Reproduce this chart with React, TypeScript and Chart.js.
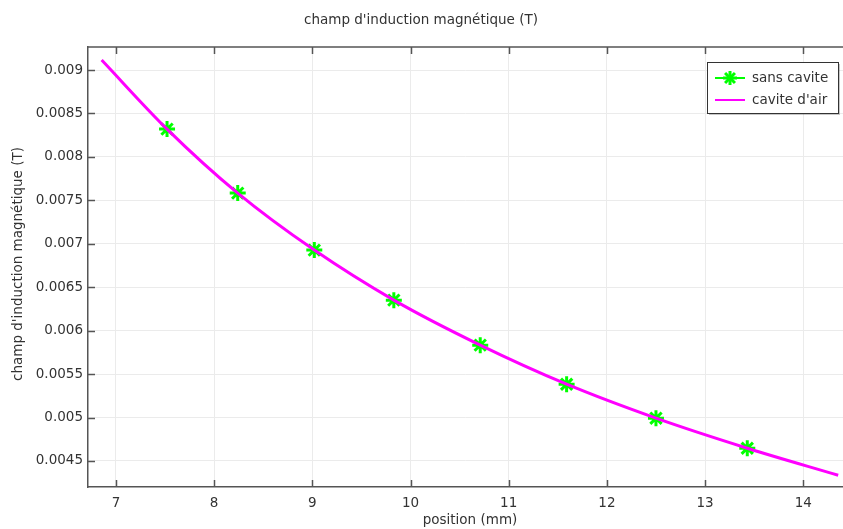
import React, { useEffect, useRef } from 'react';
import { Chart, registerables } from 'chart.js';

Chart.register(...registerables);

const chartTitle = "champ d'induction magnétique (T)";
const xTitle = 'position (mm)';
const yTitle = "champ d'induction magnétique (T)";

const xTicks = [7, 8, 9, 10, 11, 12, 13, 14];
const yTicks = [0.0045, 0.005, 0.0055, 0.006, 0.0065, 0.007, 0.0075, 0.008, 0.0085, 0.009];

// "sans cavite" markers
const sansCaviteX = [7.52, 8.24, 9.02, 9.83, 10.71, 11.59, 12.5, 13.43];
const sansCaviteY = [0.00832, 0.007583, 0.006927, 0.006351, 0.005833, 0.005383, 0.004992, 0.004646];

// "cavite d'air" curve
const airX = [6.854, 7.52, 8.24, 9.02, 9.83, 10.71, 11.59, 12.5, 13.43, 14.356];
const airY = [0.009115, 0.00832, 0.007583, 0.006927, 0.006351, 0.005833, 0.005383, 0.004992, 0.004646, 0.004335];

const X_MIN = 6.715;
const X_MAX = 14.405;
const Y_MIN = 0.0042;
const Y_MAX = 0.009265;

const FONT = '"DejaVu Sans", sans-serif';
const FS = 13.5;
const TEXT = '#333333';
const FRAME = '#555555';

const decor = {
  id: 'decor',
  afterDraw(chart: any) {
    const { ctx, chartArea: a, scales } = chart;
    ctx.save();
    const line = (x1: number, y1: number, x2: number, y2: number) => {
      ctx.beginPath();
      ctx.moveTo(x1, y1);
      ctx.lineTo(x2, y2);
      ctx.stroke();
    };
    ctx.strokeStyle = FRAME;
    ctx.lineWidth = 1.5;
    line(a.left, a.top, a.right, a.top);
    for (const v of xTicks) {
      const px = Math.round(scales.x.getPixelForValue(v)) + 0.5;
      line(px, a.bottom, px, a.bottom - 7);
      line(px, a.top, px, a.top + 7);
    }
    for (const v of yTicks) {
      const py = Math.round(scales.y.getPixelForValue(v)) + 0.5;
      line(a.left, py, a.left + 7, py);
    }

    ctx.fillStyle = TEXT;
    ctx.font = FS + 'px ' + FONT;
    ctx.textAlign = 'center';
    ctx.textBaseline = 'middle';
    ctx.fillText(chartTitle, 421, 20);
    ctx.fillText(xTitle, 470, 520);
    ctx.save();
    ctx.translate(18, 264);
    ctx.rotate(-Math.PI / 2);
    ctx.fillText(yTitle, 0, 0);
    ctx.restore();

    // legend
    const lx = 707, ly = 62, lw = 131, lh = 51;
    ctx.fillStyle = 'rgba(0,0,0,0.22)';
    ctx.fillRect(lx + 2, ly + 2, lw, lh);
    ctx.fillStyle = '#ffffff';
    ctx.fillRect(lx, ly, lw, lh);
    ctx.strokeStyle = '#333333';
    ctx.lineWidth = 1;
    ctx.strokeRect(lx + 0.5, ly + 0.5, lw, lh);

    const r1 = 78, r2 = 100;
    ctx.strokeStyle = '#00ff00';
    ctx.lineWidth = 2;
    line(715, r1, 745, r1);
    ctx.lineWidth = 3;
    const cx = 730, rr = 7;
    line(cx - rr, r1, cx + rr, r1);
    line(cx, r1 - rr, cx, r1 + rr);
    const d = rr * 0.7071;
    line(cx - d, r1 - d, cx + d, r1 + d);
    line(cx - d, r1 + d, cx + d, r1 - d);

    ctx.strokeStyle = '#ff00ff';
    ctx.lineWidth = 2;
    line(715, r2, 745, r2);

    ctx.fillStyle = TEXT;
    ctx.font = FS + 'px ' + FONT;
    ctx.textAlign = 'left';
    ctx.fillText('sans cavite', 752, r1);
    ctx.fillText("cavite d'air", 752, r2);
    ctx.restore();
  },
};

export default function App() {
  const ref = useRef<HTMLCanvasElement | null>(null);

  useEffect(() => {
    if (!ref.current) return;
    const chart = new Chart(ref.current, {
      type: 'scatter',
      data: {
        datasets: [
          {
            label: 'sans cavite',
            data: sansCaviteX.map((x, i) => ({ x, y: sansCaviteY[i] })),
            showLine: false,
            pointStyle: 'star',
            pointRadius: 8,
            pointBorderWidth: 3,
            borderColor: '#00ff00',
            backgroundColor: '#00ff00',
            order: 2,
          },
          {
            label: "cavite d'air",
            data: airX.map((x, i) => ({ x, y: airY[i] })),
            showLine: true,
            pointRadius: 0,
            borderColor: '#ff00ff',
            backgroundColor: '#ff00ff',
            borderWidth: 3,
            cubicInterpolationMode: 'monotone',
            order: 1,
          },
        ],
      },
      options: {
        animation: false,
        responsive: false,
        layout: { autoPadding: false, padding: { top: 47, right: 0, left: 0, bottom: 0 } },
        plugins: {
          legend: { display: false },
          title: { display: false },
          tooltip: { enabled: false },
        },
        scales: {
          x: {
            type: 'linear',
            min: X_MIN,
            max: X_MAX,
            afterBuildTicks: (s: any) => {
              s.ticks = xTicks.map((v) => ({ value: v }));
            },
            afterFit: (s: any) => {
              s.height = 42;
              s.paddingLeft = 0;
              s.paddingRight = 0;
            },
            ticks: {
              padding: 8,
              color: TEXT,
              font: { family: FONT, size: FS },
              callback: (v: any) => String(v),
            },
            grid: { color: '#ebebeb', lineWidth: 1, drawTicks: false },
            border: { display: true, color: FRAME, width: 1.5 },
          },
          y: {
            type: 'linear',
            min: Y_MIN,
            max: Y_MAX,
            afterBuildTicks: (s: any) => {
              s.ticks = yTicks.map((v) => ({ value: v }));
            },
            afterFit: (s: any) => {
              s.width = 88;
              s.paddingTop = 0;
              s.paddingBottom = 0;
            },
            ticks: {
              padding: 5,
              color: TEXT,
              font: { family: FONT, size: FS },
              callback: (v: any) => String(v),
            },
            grid: { color: '#ebebeb', lineWidth: 1, drawTicks: false },
            border: { display: true, color: FRAME, width: 1.5 },
          },
        },
      },
      plugins: [decor],
    } as any);
    return () => chart.destroy();
  }, []);

  return (
    <div style={{ position: 'absolute', left: 0, top: 0, width: 843, height: 529, background: '#fff' }}>
      <canvas ref={ref} width={843} height={529} style={{ display: 'block' }} />
    </div>
  );
}
